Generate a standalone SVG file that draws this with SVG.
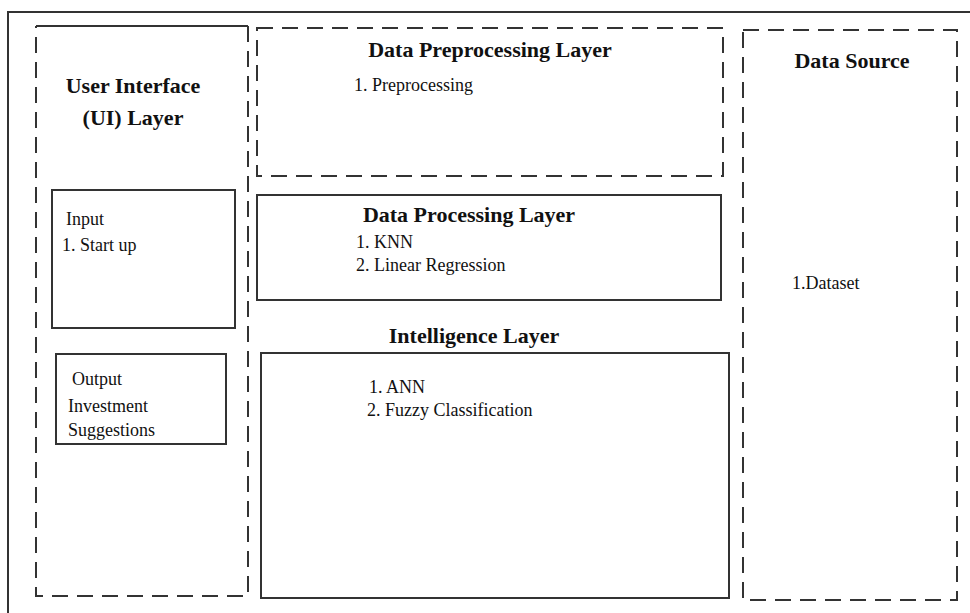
<svg xmlns="http://www.w3.org/2000/svg" width="970" height="613" viewBox="0 0 970 613">
<style>
.solid{fill:none;stroke:#333;stroke-width:2}
.dash{fill:none;stroke:#333;stroke-width:2;stroke-dasharray:16 9}
.title{font-family:"Liberation Serif","Times New Roman",serif;font-weight:bold;font-size:22px;fill:#111}
.item{font-family:"Liberation Serif","Times New Roman",serif;font-size:18px;fill:#111}
</style>
<rect width="970" height="613" fill="#fff"/>
<g id="frame">
<path class="solid" d="M8,620 V12 H975"/>
</g>
<g id="ui-layer">
<path class="solid" d="M36,26 H248"/>
<path class="dash" d="M248,26 V596 H36 V26"/>
<text class="title" x="133" y="93" text-anchor="middle">User Interface</text>
<text class="title" x="133" y="125" text-anchor="middle">(UI) Layer</text>
</g>
<g id="input">
<rect class="solid" x="52" y="190" width="183" height="138"/>
<text class="item" x="66" y="225">Input</text>
<text class="item" x="62" y="251">1. Start up</text>
</g>
<g id="output">
<rect class="solid" x="56" y="354" width="170" height="90"/>
<text class="item" x="72" y="385">Output</text>
<text class="item" x="68" y="412">Investment</text>
<text class="item" x="68" y="436">Suggestions</text>
</g>
<g id="preprocessing-layer">
<rect class="dash" x="257" y="28" width="466" height="148"/>
<text class="title" x="490" y="57" text-anchor="middle">Data Preprocessing Layer</text>
<text class="item" x="354" y="91">1. Preprocessing</text>
</g>
<g id="processing-layer">
<rect class="solid" x="257" y="195" width="464" height="105"/>
<text class="title" x="469" y="222" text-anchor="middle">Data Processing Layer</text>
<text class="item" x="356" y="248">1. KNN</text>
<text class="item" x="356" y="271">2. Linear Regression</text>
</g>
<g id="intelligence-layer">
<text class="title" x="474" y="343" text-anchor="middle">Intelligence Layer</text>
<rect class="solid" x="261" y="353" width="468" height="245"/>
<text class="item" x="369" y="393">1. ANN</text>
<text class="item" x="367" y="416">2. Fuzzy Classification</text>
</g>
<g id="data-source">
<rect class="dash" x="743" y="30" width="214" height="570"/>
<text class="title" x="852" y="68" text-anchor="middle">Data Source</text>
<text class="item" x="792" y="289">1.Dataset</text>
</g>
<g id="connectors"></g>
</svg>
